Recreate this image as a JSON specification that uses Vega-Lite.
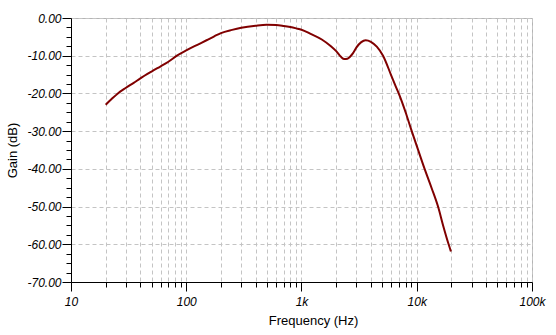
{
  "$schema": "https://vega.github.io/schema/vega-lite/v6.json",
  "width": 461,
  "height": 264,
  "autosize": "none",
  "padding": {"left": 71, "top": 18, "right": 24, "bottom": 53},
  "background": "white",
  "config": {
    "view": {"stroke": "#b4b4b4", "strokeWidth": 1},
    "axis": {
      "labelFont": "Liberation Sans",
      "titleFont": "Liberation Sans",
      "labelColor": "black",
      "titleColor": "black",
      "titleFontWeight": "normal",
      "titleFontSize": 13,
      "labelFontSize": 12,
      "labelFontStyle": "italic",
      "domainColor": "black",
      "tickColor": "black",
      "gridColor": "#c4c4c4",
      "gridDash": [4, 3],
      "gridWidth": 1
    }
  },
  "data": {
    "values": [
      {"f": 20, "g": -23.0},
      {"f": 22.5, "g": -21.5},
      {"f": 25.5, "g": -20.0},
      {"f": 30, "g": -18.5},
      {"f": 35, "g": -17.2},
      {"f": 40, "g": -16.0},
      {"f": 50, "g": -14.2},
      {"f": 60, "g": -12.8},
      {"f": 70, "g": -11.6},
      {"f": 83, "g": -10.0},
      {"f": 100, "g": -8.6},
      {"f": 125, "g": -7.1},
      {"f": 150, "g": -5.9},
      {"f": 175, "g": -4.85},
      {"f": 200, "g": -4.0},
      {"f": 250, "g": -3.15},
      {"f": 300, "g": -2.6},
      {"f": 400, "g": -2.05},
      {"f": 500, "g": -1.8},
      {"f": 600, "g": -1.85},
      {"f": 700, "g": -2.1},
      {"f": 800, "g": -2.4},
      {"f": 900, "g": -2.75},
      {"f": 1000, "g": -3.1},
      {"f": 1200, "g": -4.2},
      {"f": 1500, "g": -5.7},
      {"f": 1800, "g": -7.5},
      {"f": 2000, "g": -8.8},
      {"f": 2200, "g": -10.3},
      {"f": 2350, "g": -10.9},
      {"f": 2500, "g": -10.8},
      {"f": 2650, "g": -10.2},
      {"f": 2800, "g": -9.3},
      {"f": 3000, "g": -7.8},
      {"f": 3300, "g": -6.4},
      {"f": 3600, "g": -5.9},
      {"f": 4000, "g": -6.3},
      {"f": 4500, "g": -7.6},
      {"f": 5100, "g": -10.0},
      {"f": 6000, "g": -15.2},
      {"f": 6500, "g": -17.8},
      {"f": 7100, "g": -20.6},
      {"f": 8000, "g": -25.0},
      {"f": 9000, "g": -29.8},
      {"f": 10000, "g": -33.9},
      {"f": 11700, "g": -40.0},
      {"f": 13500, "g": -45.2},
      {"f": 15300, "g": -50.0},
      {"f": 17000, "g": -55.2},
      {"f": 18900, "g": -60.0},
      {"f": 19800, "g": -61.9}
    ]
  },
  "mark": {"type": "line", "color": "#800000", "strokeWidth": 2, "interpolate": "monotone"},
  "encoding": {
    "x": {
      "field": "f",
      "type": "quantitative",
      "scale": {"type": "log", "domain": [10, 100000], "nice": false},
      "axis": {
        "title": "Frequency (Hz)",
        "titlePadding": 7,
        "titleX": 242,
        "titleAlign": "center",
        "values": [10, 20, 30, 40, 50, 60, 70, 80, 90, 100, 200, 300, 400, 500, 600, 700, 800, 900, 1000, 2000, 3000, 4000, 5000, 6000, 7000, 8000, 9000, 10000, 20000, 30000, 40000, 50000, 60000, 70000, 80000, 90000, 100000],
        "labelExpr": "(abs(log(datum.value)/LN10 - round(log(datum.value)/LN10)) < 0.001) ? (datum.value >= 1000 ? format(datum.value/1000, 'd') + 'k' : format(datum.value, 'd')) : ''",
        "tickSize": {"condition": {"test": "abs(log(datum.value)/LN10 - round(log(datum.value)/LN10)) < 0.001", "value": 9}, "value": 5},
        "labelPadding": 5,
        "labelFlush": false,
        "labelOverlap": false,
        "grid": true
      }
    },
    "y": {
      "field": "g",
      "type": "quantitative",
      "scale": {"domain": [-70, 0], "nice": false},
      "axis": {
        "title": "Gain (dB)",
        "titlePadding": 7,
        "values": [-70, -67.5, -65, -62.5, -60, -57.5, -55, -52.5, -50, -47.5, -45, -42.5, -40, -37.5, -35, -32.5, -30, -27.5, -25, -22.5, -20, -17.5, -15, -12.5, -10, -7.5, -5, -2.5, 0],
        "labelExpr": "(datum.value % 10 == 0) ? ((datum.value < 0 ? '-' : '') + format(abs(datum.value), '.2f')) : ''",
        "tickSize": {"condition": {"test": "datum.value % 10 == 0", "value": 9}, "value": 5},
        "gridOpacity": {"condition": {"test": "datum.value % 10 == 0", "value": 1}, "value": 0},
        "labelPadding": 1,
        "labelOverlap": false,
        "labelFlush": false,
        "grid": true
      }
    }
  }
}
